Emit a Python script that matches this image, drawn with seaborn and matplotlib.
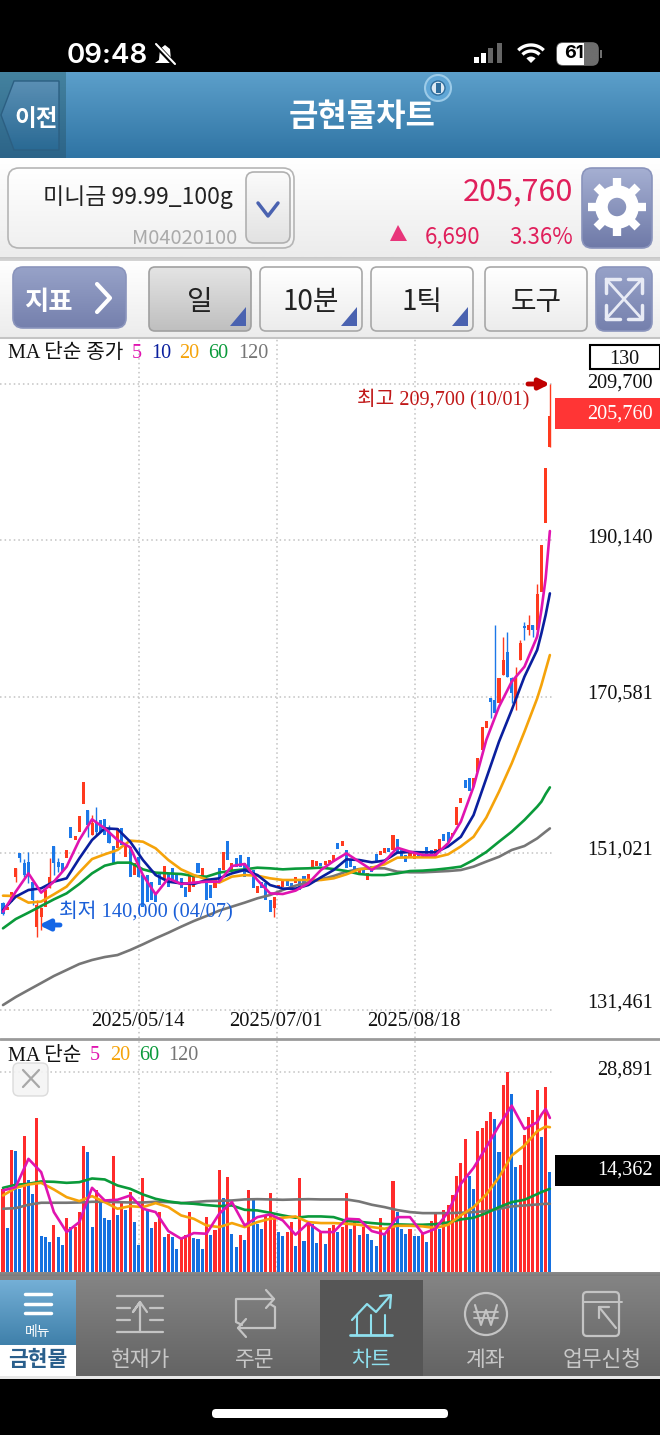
import numpy as np
import pandas as pd
import matplotlib

matplotlib.use("Agg")
import matplotlib.pyplot as plt
from matplotlib.patches import FancyBboxPatch, Circle, Polygon, Rectangle, Wedge
import seaborn as sns

# price candles, 130 days
opens = [
    144800, 143950, 145000, 148100, 151030, 149780, 150000, 147490, 141865, 143100,
    144370, 146660, 151950, 150000, 149780, 150400, 154360, 152700, 153740, 157160,
    156450, 153320, 155000, 155200, 155280, 153740, 151950, 151660, 154160, 150620,
    151870, 148320, 150620, 148320, 148320, 147490, 146240, 148530, 147700, 148530,
    149160, 148320, 147900, 146870, 146240, 146870, 149780, 148100, 147700, 147070,
    146660, 149160, 148950, 152570, 148950, 150400, 150820, 149780, 150530, 148950,
    146030, 147490, 147280, 145200, 144160, 146660, 146870, 147620, 147370, 147280,
    147700, 148200, 147700, 149160, 149450, 149780, 149570, 149780, 150000, 152370,
    151950, 151450, 150200, 149450, 148530, 149160, 147700, 149450, 150900, 150820,
    151120, 151660, 151450, 152780, 151450, 150820, 150400, 150280, 151240, 150530,
    151870, 151450, 150620, 151450, 153450, 153740, 153200, 154570, 157280, 160200,
    160400, 159360, 161240, 163950, 166650, 170400, 170200, 169780, 173320, 176240,
    172900, 169780, 175200, 179490, 178950, 179570, 178950, 183740, 192280, 201780,
]
closes = [
    143500, 144370, 146240, 149160, 150400, 148320, 148320, 145200, 144570, 144160,
    146450, 148100, 149780, 149360, 148740, 151450, 152900, 153200, 155700, 160000,
    154570, 154780, 153740, 153740, 153320, 152280, 149700, 154160, 152070, 152070,
    148100, 149870, 148100, 144370, 145000, 145200, 145000, 147070, 149450, 146870,
    147700, 147490, 146660, 145620, 148530, 148030, 148530, 149160, 145200, 145400,
    147700, 147490, 151240, 150200, 149780, 149360, 149360, 148100, 149360, 146660,
    146950, 146660, 145200, 143740, 145620, 147070, 147820, 146950, 146450, 148120,
    146450, 147280, 148450, 150200, 150070, 149450, 150070, 150200, 150820, 151530,
    152620, 149160, 149370, 148620, 149160, 148530, 148620, 148740, 150000, 151370,
    151660, 151240, 153320, 151240, 150620, 150000, 151120, 151240, 150620, 150700,
    150620, 150530, 151530, 152780, 152620, 152490, 153530, 156870, 157900, 159150,
    158860, 160400, 162900, 166780, 167610, 169990, 168530, 172900, 175200, 173120,
    171030, 172900, 177280, 179160, 179570, 178950, 183450, 189570, 199160, 205760,
]
wick_i = [0, 3, 4, 5, 6, 7, 8, 9, 11, 12, 13, 20, 21, 22, 25, 32, 64, 115, 116, 118,
          119, 120, 121, 122, 123, 124, 125, 126, 129]
wick_hi = [145000, 149160, 151030, 150280, 151240, 147490, 145200, 144370, 150400, 151950,
           150400, 156450, 155820, 156870, 154570, 151870, 145620, 170400, 179570, 178120,
           178740, 173120, 174360, 177700, 179900, 180820, 179570, 184660, 209700]
wick_lo = [143300, 147400, 150000, 148100, 147280, 144570, 140600, 141450, 146660, 148320,
           148740, 153100, 153320, 153320, 152280, 148100, 143120, 167900, 168530, 173320,
           173120, 169780, 168950, 175200, 177700, 178320, 178120, 178950, 201780]

# moving averages are read at these days
ma_idx = list(range(0, 127, 3)) + [127, 128, 129]
ma5 = [143740, 146240, 148530, 146120, 147490, 149360, 152700, 155280, 154160, 152700, 151780,
       148320, 145910, 147910, 147200, 147370, 147490, 147490, 149450, 149700, 147700, 146030,
       145950, 146370, 147280, 148950, 150070, 151030, 150000, 148950, 150000, 151740, 151240,
       150820, 150820, 152300, 155000, 159360, 165200, 169360, 172490, 174360, 178120, 181450,
       185400, 191320]
ma10 = [143950, 145620, 146450, 146660, 147490, 147910, 150400, 152700, 154160, 154070, 152490,
        150200, 148320, 147490, 147280, 147200, 147700, 147910, 148530, 148950, 148320, 147070,
        146620, 146620, 147070, 148030, 148950, 150280, 150200, 149910, 150120, 151120, 151200,
        151160, 151160, 151900, 153100, 155820, 160400, 165000, 168950, 173120, 176450, 178530,
        180820, 183530]
ma20 = [145740, 145700, 144870, 145000, 145910, 146870, 148660, 150320, 150910, 151450, 152620,
        152490, 151660, 150200, 149030, 148320, 147780, 147370, 148120, 148320, 148240, 147910,
        147700, 147700, 147700, 147700, 147910, 148410, 149030, 149240, 149660, 150490, 150530,
        150530, 150530, 150910, 151900, 153100, 155500, 158740, 162280, 166240, 170400, 172070,
        173950, 175820]
ma60 = [141660, 142820, 143620, 144450, 145280, 146030, 147200, 148530, 149490, 149870, 149870,
        149030, 148620, 148530, 148450, 148200, 148120, 148620, 148870, 149030, 149240, 149160,
        149030, 149120, 149160, 149240, 149070, 148820, 148450, 148320, 148320, 148530, 148820,
        148870, 148990, 149160, 149370, 150200, 151200, 152490, 153740, 155200, 156860, 157490,
        158450, 159280]
ma120 = [132070, 133070, 133950, 134820, 135700, 136450, 137200, 137700, 138070, 138320, 138950,
         139660, 140410, 141110, 141860, 142570, 143200, 143870, 144370, 144870, 145410, 145820,
         146450, 146990, 147410, 147780, 148200, 148740, 149070, 149160, 149160, 148740, 148660,
         148660, 148740, 148820, 148950, 149370, 150000, 150600, 151450, 151950, 152900, 153320,
         153740, 154150]

# volume bars
volume = [
    12040, 6400, 17720, 17480, 12040, 19740, 13340, 11320, 22290, 5200,
    5060, 4330, 6840, 5060, 3950, 7850, 6500, 6500, 8670, 18300,
    17430, 6500, 11800, 10450, 7800, 7560, 16850, 8190, 10110, 8910,
    11560, 7220, 3850, 13580, 8910, 6360, 7220, 8670, 5060, 5540,
    5060, 3270, 4820, 5300, 8670, 4960, 4820, 3370, 7940, 5300,
    6020, 14780, 10690, 13720, 5540, 3610, 5300, 4670, 11890, 10350,
    6980, 6160, 8090, 11460, 7940, 5780, 5150, 5780, 7220, 3710,
    13630, 4480, 6980, 6980, 4240, 5780, 4090, 6360, 6740, 5780,
    6500, 11410, 6160, 7220, 5390, 6500, 5540, 4670, 3710, 7850,
    5300, 6020, 13140, 8670, 6160, 5540, 6160, 5200, 5200, 5780,
    4330, 7370, 8430, 6260, 8910, 9730, 11070, 13960, 15750, 19210,
    13820, 11990, 20460, 20800, 21860, 23160, 22150, 17430, 27010, 28890,
    25760, 15170, 15550, 19840, 22490, 23450, 26390, 19600, 26720, 14400,
]
vol_side = list(
    "rbrbbrbbrb" "bbrbbrbrrr" "bbrbbbrbrb" "rbbrbbrrbr"
    "bbrrrbbbrb" "rrbrbbrbrb" "bbrrrbbrrb" "rbrbbrbrrb"
    "rrbrbrbbbr" "brrbbbrbbr" "brrbrrrrrr" "bbrrrrbbrr" "bbrrrrrbrb"
)
vol5 = [11800, 12280, 16370, 14450, 8670, 5780, 7220, 12180, 10350, 10450, 11070,
        9150, 8670, 5920, 4820, 5630, 5540, 8430, 10110, 6740, 7940, 8330,
        7460, 5390, 7080, 5780, 5780, 7700, 7610, 5920, 5440, 7940, 7940,
        5540, 6260, 8670, 12760, 15070, 18060, 21190, 24080, 20700, 21670, 22770,
        23590, 22290]
vol20 = [11070, 12180, 12660, 12900, 11940, 10830, 10260, 10980, 10110, 9150, 9530,
         9390, 9970, 9390, 8190, 7700, 6740, 6500, 7080, 6500, 7220, 7700,
         7850, 8040, 7220, 7080, 7080, 6980, 6840, 6500, 6260, 6690, 6690,
         6600, 6360, 6840, 8190, 9390, 11220, 13720, 16850, 18300, 20370, 20700,
         21040, 20950]
vol60 = [12180, 12620, 12760, 13100, 13050, 12900, 13000, 13530, 13390, 12520, 12040,
         11220, 10590, 10210, 9970, 9870, 9680, 9530, 9630, 9000, 8910, 8570,
         8190, 7850, 8040, 8040, 7940, 7370, 7270, 7080, 6930, 6890, 6840,
         6840, 6930, 7170, 7610, 7850, 8520, 9390, 10110, 10450, 11270, 11560,
         11800, 12040]
vol120 = [9150, 9240, 9730, 10020, 10020, 10020, 10060, 10160, 10160, 10110, 10060,
          10060, 10160, 10110, 9970, 10110, 10260, 10300, 10350, 10500, 10540, 10500,
          10450, 10500, 10540, 10500, 10500, 10500, 10210, 9730, 9390, 8960, 8670,
          8520, 8520, 8520, 8570, 8670, 8810, 9150, 9490, 9630, 9770, 9820,
          9870, 9870]

price_ticks = [131461, 151021, 170581, 190140, 209700]
price_labels = ["131,461", "151,021", "170,581", "190,140", "209,700"]
label_shift = [7, 3, 3, 2, 1]
date_pos = [32.1, 64.6, 97.1]
date_labels = ["2025/05/14", "2025/07/01", "2025/08/18"]

RED = "#ff3a1e"
BLUE = "#1c78e8"
C5, C10, C20, C60, C120 = "#e014b0", "#0a1f9e", "#f5a30a", "#0a9a3a", "#767676"
KR = ["Noto Sans CJK KR", "DejaVu Sans"]
SERIF = ["Liberation Serif", "Noto Sans CJK KR"]

sns.set_theme(style="white")
plt.rcParams["patch.force_edgecolor"] = False
plt.rcParams["patch.edgecolor"] = "none"
W, H = 660, 1435
fig = plt.figure(figsize=(W / 100, H / 100), dpi=100, facecolor="black")


def px_axes(x0, y0, x1, y1, z):
    ax = fig.add_axes([x0 / W, 1 - y1 / H, (x1 - x0) / W, (y1 - y0) / H], zorder=z)
    ax.patch.set_alpha(0)
    return ax


bg = px_axes(0, 0, W, H, 0)
fg = px_axes(0, 0, W, H, 3)


def grad(x0, y0, x1, y1, top, bot, clip=None):
    c0 = np.array(matplotlib.colors.to_rgb(top))
    c1 = np.array(matplotlib.colors.to_rgb(bot))
    t = np.linspace(0, 1, 64)[:, None, None]
    img = c0[None, None, :] * (1 - t) + c1[None, None, :] * t
    im = bg.imshow(img, extent=(x0, x1, y1, y0), aspect="auto", zorder=1)
    if clip is not None:
        im.set_clip_path(clip)
    return im


def button(x0, y0, x1, y1, top, bot, edge, r=7, ax=bg):
    box = FancyBboxPatch((x0 + r, y0 + r), x1 - x0 - 2 * r, y1 - y0 - 2 * r,
                         boxstyle="round,pad=%d,rounding_size=%d" % (r, r),
                         fc="none", ec=edge, lw=1.2, zorder=2)
    ax.add_patch(box)
    grad(x0, y0, x1, y1, top, bot, clip=box)


def label(x, y, s, size, color="black", ha="center", family=KR, weight="normal"):
    # text sits a little high with va=center, so push it down
    y = y + (7 if family is KR else 6)
    fg.text(x, y, s, fontsize=size, color=color, ha=ha, va="center", family=family,
            weight=weight)


# header and toolbars
bg.add_patch(Rectangle((0, 0), W, H, fc="black", zorder=0))
grad(0, 72, W, 158, "#5c9fca", "#2f74a4")
grad(0, 72, 66, 158, "#44829f", "#2c6488")
back = Polygon([[1, 115], [14, 81], [59, 81], [59, 150], [14, 150]], closed=True, fc="none",
               ec="#2c5f82", lw=1, zorder=2)
bg.add_patch(back)
grad(1, 81, 59, 150, "#5a8fb4", "#2a6a94", clip=back)
grad(0, 158, W, 257, "#ffffff", "#ececec")
grad(0, 257, W, 261, "#c8c8c8", "#d6d6d6")
grad(0, 261, W, 338, "#ffffff", "#ececec")
bg.add_patch(Rectangle((0, 338), W, 935, fc="white", zorder=1))
bg.plot([0, W], [338, 338], color="#c4c4c4", lw=1.5, zorder=2)
grad(0, 1273, W, 1376, "#858585", "#646464")
bg.add_patch(Rectangle((0, 1376), W, 3, fc="#e8e8e8", zorder=2))

button(8, 168, 294, 248, "#ffffff", "#f0f0f0", "#b5b5b5", r=11)
button(246, 172, 290, 243, "#fbfbfb", "#e2e2e2", "#b0b0b0", r=8)
button(582, 168, 652, 248, "#a5afd2", "#6f7aa8", "#8a94bc", r=10)
button(13, 267, 126, 328, "#97a2c8", "#7580ad", "#8a94bc", r=10)
button(149, 267, 251, 331, "#e4e4e4", "#bfbfbf", "#a0a0a0", r=6)
button(260, 267, 362, 331, "#ffffff", "#ececec", "#a8a8a8", r=6)
button(371, 267, 473, 331, "#ffffff", "#ececec", "#a8a8a8", r=6)
button(485, 267, 587, 331, "#ffffff", "#ececec", "#a8a8a8", r=6)
button(596, 267, 652, 331, "#97a2c8", "#7580ad", "#8a94bc", r=9)
for xr in [246, 357, 468]:
    bg.add_patch(Polygon([[xr, 307], [xr, 326], [xr - 16, 326]], fc="#4a62b0", zorder=3))

label(36, 112, "이전", 17, "white", weight="bold")
label(362, 110, "금현물차트", 23, "white", weight="bold")
bg.add_patch(Circle((438, 88), 13, fc="#5fa6d6", ec="#9ccbe8", lw=1.5, zorder=3))
bg.add_patch(Circle((438, 88), 7, fc="#dce9f3", ec="#2f6d9c", lw=1, zorder=3))
bg.add_patch(Rectangle((435.5, 83), 5, 10, fc="#2f6d9c", zorder=4))

label(138, 190, "미니금 99.99_100g", 16.5, "#222222")
label(185, 231, "M04020100", 14.5, "#aaaaaa")
bg.plot([258, 268, 278], [203, 216, 203], color="#4a62b0", lw=2.5, zorder=3)
label(573, 185, "205,760", 22, "#e0205c", ha="right")
bg.add_patch(Polygon([[398, 225], [390, 241], [407, 241]], fc="#e8357a", zorder=3))
label(480, 230, "6,690", 16, "#e0205c", ha="right")
label(573, 230, "3.36%", 16, "#e0205c", ha="right")

# gear
bg.add_patch(Circle((617, 207), 15.5, fc="none", ec="white", lw=9, zorder=3))
for a in np.deg2rad(np.arange(0, 360, 45)):
    bg.plot([617 + 20 * np.cos(a), 617 + 29 * np.cos(a)],
            [207 + 20 * np.sin(a), 207 + 29 * np.sin(a)], color="white", lw=6, zorder=3,
            solid_capstyle="butt")

label(48, 295, "지표", 19, "white", weight="bold")
bg.plot([97, 110, 97], [284, 298, 312], color="white", lw=3, zorder=3)
label(200, 295, "일", 20, "#222222")
label(311, 295, "10분", 20, "#222222")
label(422, 295, "1틱", 20, "#222222")
label(536, 295, "도구", 20, "#222222")
for xs, ys in [([606, 642], [279, 319]), ([642, 606], [279, 319])]:
    bg.plot(xs, ys, color="#e8ebf5", lw=2, zorder=3)
for cx, cy, dx, dy in [(606, 279, 1, 1), (642, 279, -1, 1), (606, 319, 1, -1), (642, 319, -1, -1)]:
    bg.plot([cx + dx * 14, cx, cx], [cy, cy, cy + dy * 14], color="#e8ebf5", lw=2.5, zorder=3)

# price panel
ax = px_axes(0, 338, 552, 1038, 1)
ax.set_xlim(-0.71, 129.5)
ax.set_ylim(127950, 215450)
sns.despine(ax=ax, left=True, bottom=True)
ax.set_yticks(price_ticks)
ax.set_xticks(date_pos)
ax.set_yticklabels([])
ax.set_xticklabels([])
ax.tick_params(length=0)
ax.grid(True, color="#c2c2c2", linestyle=(0, (1, 2)), lw=1.1)
ax.set_axisbelow(True)

idx = np.arange(len(opens))
candle = [RED if c >= o else BLUE for o, c in zip(opens, closes)]
ax.vlines(wick_i, wick_lo, wick_hi, colors=[candle[i] for i in wick_i], lw=1.0, zorder=2)
ax.bar(idx, np.array(closes) - np.array(opens), bottom=opens, width=0.72, color=candle,
       linewidth=0, zorder=2)
for vals, col in [(ma120, C120), (ma60, C60), (ma20, C20), (ma10, C10), (ma5, C5)]:
    sns.lineplot(x=ma_idx, y=vals, color=col, lw=1.9, ax=ax, estimator=None, zorder=3)
ax.set_xlabel("")
ax.set_ylabel("")

for v, s, dy in zip(price_ticks, price_labels, label_shift):
    ax.annotate(s, xy=(1, v), xycoords=("axes fraction", "data"), xytext=(101, dy),
                textcoords="offset pixels", ha="right", va="center", fontsize=14.6,
                family=SERIF, color="#111111", annotation_clip=False)
for p, s in zip(date_pos, date_labels):
    label(3 + 4.24 * p - 1, 1015, s, 14.8, "#111111", family=SERIF)

# volume panel
bg.plot([0, W], [1039, 1039], color="#9a9a9a", lw=2, zorder=2)
axv = px_axes(0, 1040, 552, 1272, 1)
vol_df = pd.DataFrame({"day": idx, "volume": volume, "side": vol_side})
sns.barplot(data=vol_df, x="day", y="volume", hue="side", palette={"r": "#ff2b2b", "b": "#1570e0"},
            native_scale=True, dodge=False, width=0.72, errorbar=None, legend=False, saturation=1,
            linewidth=0, ax=axv, zorder=2)
for vals, col in [(vol120, C120), (vol60, C60), (vol20, C20), (vol5, C5)]:
    sns.lineplot(x=ma_idx, y=vals, color=col, lw=1.9, ax=axv, estimator=None, zorder=3)
axv.set_xlim(-0.71, 129.5)
axv.set_ylim(0, 33570)
sns.despine(ax=axv, left=True, bottom=True)
axv.set_xticks(date_pos)
axv.set_yticks([28891])
axv.set_xticklabels([])
axv.set_yticklabels([])
axv.set_xlabel("")
axv.set_ylabel("")
axv.tick_params(length=0)
axv.grid(True, color="#c2c2c2", linestyle=(0, (1, 2)), lw=1.1)
axv.set_axisbelow(True)
grad(0, 1272, W, 1276, "#8c8c8c", "#7a7a7a").set_zorder(3)

# chart captions
label(8, 348, "MA 단순 종가", 14.5, "#111111", ha="left", family=SERIF)
for x, s, col in [(137, "5", C5), (161, "10", C10), (189, "20", C20), (218, "60", C60), (253, "120", C120)]:
    label(x, 348, s, 14.5, col, family=SERIF)
fg.add_patch(Rectangle((590, 345), 70, 24, fc="white", ec="black", lw=1.5))
label(624, 353, "130", 14.5, "#111111", family=SERIF)
fg.add_patch(Rectangle((555, 398), 105, 31, fc="#ff3535"))
label(653, 408, "205,760", 14.6, "white", ha="right", family=SERIF)
label(529, 393, "최고 209,700 (10/01)", 14.6, "#c01818", ha="right", family=SERIF)
fg.annotate("", xy=(550, 384), xytext=(528, 384),
            arrowprops=dict(arrowstyle="-|>", color="#c00000", lw=3.5, mutation_scale=15,
                            shrinkA=0, shrinkB=0))
label(59, 906, "최저 140,000 (04/07)", 14.7, "#1a5fd8", ha="left", family=SERIF)
fg.annotate("", xy=(39, 925), xytext=(60, 925),
            arrowprops=dict(arrowstyle="-|>", color="#1466e6", lw=3.5, mutation_scale=15,
                            shrinkA=0, shrinkB=0))
label(8, 1050, "MA 단순", 14.5, "#111111", ha="left", family=SERIF)
for x, s, col in [(95, "5", C5), (120, "20", C20), (149, "60", C60), (183, "120", C120)]:
    label(x, 1050, s, 14.5, col, family=SERIF)
fg.add_patch(FancyBboxPatch((18, 1068), 25, 23, boxstyle="round,pad=5,rounding_size=6",
                            fc="#f4f4f4", ec="#d8d8d8", lw=1, alpha=0.9))
fg.plot([23, 39], [1070, 1087], color="#a8a8a8", lw=1.6)
fg.plot([39, 23], [1070, 1087], color="#a8a8a8", lw=1.6)
label(653, 1064, "28,891", 14.6, "#111111", ha="right", family=SERIF)
fg.add_patch(Rectangle((555, 1155), 105, 31, fc="black"))
label(653, 1164, "14,362", 14.6, "white", ha="right", family=SERIF)

# bottom tabs
grad(0, 1280, 76, 1345, "#74afd6", "#3f80aa")
bg.add_patch(Rectangle((0, 1345), 76, 31, fc="white", zorder=2))
bg.add_patch(Rectangle((320, 1280), 103, 96, fc="#565656", zorder=2))
for y in [1294, 1304, 1313]:
    bg.plot([25, 51], [y, y], color="white", lw=2.5, zorder=3)
label(38, 1325, "메뉴", 10, "white")
label(38, 1353, "금현물", 15.5, "#2a5f8c", weight="bold")
for x, s, col in [(141, "현재가", "#c8c8c8"), (255, "주문", "#c8c8c8"), (371, "차트", "#8fe0ee"),
                  (486, "계좌", "#c8c8c8"), (602, "업무신청", "#c8c8c8")]:
    label(x, 1353, s, 15.5, col)
GR = "#c4c4c4"
for y, x0, x1 in [(1296, 117, 163), (1308, 117, 130), (1308, 150, 163), (1320, 117, 130),
                  (1320, 150, 163), (1332, 117, 163)]:
    bg.plot([x0, x1], [y, y], color=GR, lw=1.6, zorder=3)
bg.plot([140, 140, 133, 140, 147], [1332, 1302, 1312, 1302, 1312], color=GR, lw=1.6, zorder=3)
bg.plot([274, 236, 236, 242], [1299, 1299, 1322, 1325], color=GR, lw=1.6, zorder=3)
bg.plot([266, 274, 266], [1290, 1299, 1308], color=GR, lw=1.6, zorder=3)
bg.plot([238, 275, 275, 270], [1328, 1328, 1307, 1304], color=GR, lw=1.6, zorder=3)
bg.plot([246, 238, 246], [1319, 1328, 1337], color=GR, lw=1.6, zorder=3)
CY = "#8fe0ee"
bg.plot([350, 392], [1335, 1335], color=CY, lw=2, zorder=3)
for x in [357, 371, 385]:
    bg.plot([x, x], [1335, 1315], color=CY, lw=1.5, zorder=3)
bg.plot([352, 367, 376, 390], [1320, 1304, 1312, 1296], color=CY, lw=1.6, zorder=3)
bg.plot([380, 391, 390], [1296, 1295, 1308], color=CY, lw=1.6, zorder=3)
bg.add_patch(Circle((486, 1314), 21, fc="none", ec=GR, lw=1.6, zorder=3))
bg.plot([475, 481, 486, 491, 497], [1305, 1325, 1310, 1325, 1305], color=GR, lw=1.5, zorder=3)
bg.plot([474, 498], [1312, 1312], color=GR, lw=1.3, zorder=3)
bg.plot([474, 498], [1318, 1318], color=GR, lw=1.3, zorder=3)
bg.add_patch(FancyBboxPatch((585, 1294), 32, 40, boxstyle="round,pad=2,rounding_size=4",
                            fc="none", ec=GR, lw=1.6, zorder=3))
bg.plot([583, 622], [1302, 1302], color=GR, lw=1.4, zorder=3)
bg.plot([599, 616], [1307, 1328], color=GR, lw=1.6, zorder=3)
bg.plot([599, 599, 609], [1318, 1307, 1307], color=GR, lw=1.6, zorder=3)

# status bar
label(67, 50, "09:48", 20, "white", ha="left", family=["Inter", "DejaVu Sans"], weight="semibold")
bg.add_patch(Polygon([[165, 45], [170, 49], [171, 60], [175, 63], [155, 63], [159, 60], [160, 49]],
                     fc="white", zorder=3))
bg.plot([155, 175], [44, 65], color="black", lw=3.5, zorder=4)
bg.plot([156, 175], [44, 64], color="white", lw=1.5, zorder=4)
for x, h, col in [(474, 6, "white"), (481, 10, "white"), (488, 15, "#666666"), (497, 20, "#666666")]:
    bg.add_patch(Rectangle((x, 63 - h), 5, h, fc=col, zorder=3))
arc = np.deg2rad(np.linspace(-45, 45, 24))
for r in [18, 12]:
    bg.plot(531 + r * np.sin(arc), 63 - r * np.cos(arc), color="white", lw=2.4, zorder=3,
            solid_capstyle="butt")
bg.add_patch(Wedge((531, 63), 6.5, 225, 315, fc="white", zorder=3))
button(557, 43, 598, 65, "#6e6e6e", "#6e6e6e", "#6e6e6e", r=6)
box = FancyBboxPatch((563, 49), 29, 10, boxstyle="round,pad=6,rounding_size=6", fc="none", ec="none", zorder=3)
bg.add_patch(box)
grad(557, 43, 584, 65, "#ffffff", "#ffffff", clip=box).set_zorder(3)
bg.add_patch(Rectangle((600, 50), 2, 8, fc="#6e6e6e", zorder=3))
label(574, 48, "61", 13, "black", family=["Inter", "DejaVu Sans"], weight="bold")
bg.add_patch(FancyBboxPatch((216, 1413), 228, 1, boxstyle="round,pad=4,rounding_size=4", fc="white",
                            ec="none", zorder=3))

for a in (bg, fg):
    a.set_xlim(0, W)
    a.set_ylim(H, 0)
    a.axis("off")

fig.savefig("out.png", dpi=100, facecolor="black")
